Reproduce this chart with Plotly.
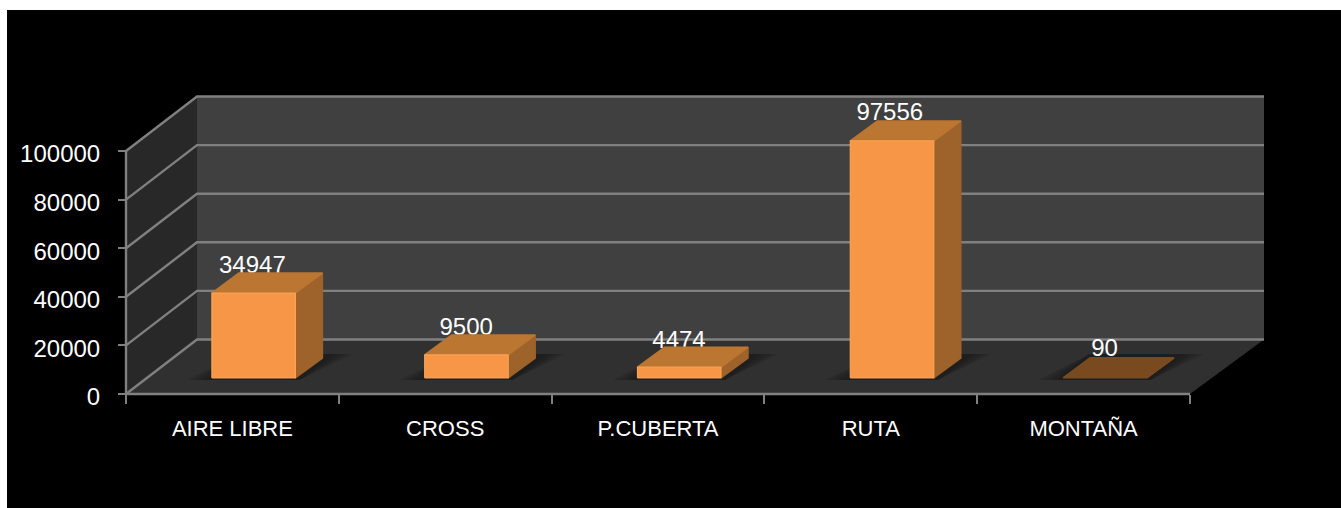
import plotly.graph_objects as go

CATEGORIES = ["AIRE LIBRE", "CROSS", "P.CUBERTA", "RUTA", "MONTAÑA"]
VALUES = [34947, 9500, 4474, 97556, 90]
Y_TICKS = [0, 20000, 40000, 60000, 80000, 100000]
LABEL_NUDGE_PX = [-1, 0, 0, -2, 0]
LABEL_RISE_PX = [26, 26, 25, 27, 28]

W, H = 1341, 508
L, R, T, B = 126, 1190, 151, 394
# the plot area is larger than the front plane so the 3D box is not clipped
AL, AR, AT, AB = 100, 1341, 10, 420
PX_X = len(CATEGORIES) / (R - L)
PX_Y = 100000 / (B - T)
X0, X1 = -0.5, len(CATEGORIES) - 0.5

# oblique projection of the fake 3D box, in pixels
WALL_DX, WALL_DY = 71, 54.5
WALL_DX_R = 74
BAR_INSET_DX, BAR_INSET_DY = 21, 16
BAR_W = 84
BAR_DX, BAR_DY = 27, 20

GRID = "#808080"
BACK = "#404040"
LEFT = "#282828"
FLOOR = "#303030"
FRONT = "#f79646"
FRONT_EDGE = "#fba253"
SIDE = "#9e622b"
TOP = "#bb7632"
TOP_FLAT = "#794a20"


def pt(x, y, dx=0, dy=0):
    return x + dx * PX_X, y + dy * PX_Y


def poly(points, color, line=None, width=0):
    xs = [p[0] for p in points] + [points[0][0]]
    ys = [p[1] for p in points] + [points[0][1]]
    return go.Scatter(
        x=xs, y=ys, mode="lines", fill="toself", fillcolor=color,
        line=dict(color=line or "rgba(0,0,0,0)", width=width),
        hoverinfo="skip", showlegend=False, cliponaxis=False,
    )


def seg(points, color=GRID, width=2.4):
    return go.Scatter(
        x=[p[0] for p in points], y=[p[1] for p in points], mode="lines",
        line=dict(color=color, width=width),
        hoverinfo="skip", showlegend=False, cliponaxis=False,
    )


fig = go.Figure()
top_val = Y_TICKS[-1]

# walls and floor
fig.add_trace(poly([pt(X0, 0), pt(X0, top_val), pt(X0, top_val, WALL_DX, WALL_DY), pt(X0, 0, WALL_DX, WALL_DY)], LEFT))
fig.add_trace(poly([pt(X0, 0, WALL_DX, WALL_DY), pt(X0, top_val, WALL_DX, WALL_DY), pt(X1, top_val, WALL_DX_R, WALL_DY), pt(X1, 0, WALL_DX_R, WALL_DY)], BACK))
fig.add_trace(poly([pt(X0, 0), pt(X0, 0, WALL_DX, WALL_DY), pt(X1, 0, WALL_DX_R, WALL_DY), pt(X1, 0)], FLOOR))

# gridlines and axis lines
for v in Y_TICKS:
    fig.add_trace(seg([pt(X0, v), pt(X0, v, WALL_DX, WALL_DY), pt(X1, v, WALL_DX_R, WALL_DY)]))
fig.add_trace(seg([pt(X0, 0), pt(X0, top_val)]))
fig.add_trace(seg([pt(X0, 0), pt(X1, 0)]))

# floor shadows
for i, v in enumerate(VALUES):
    for grow in (24, 18, 12, 6):
        a = pt(i, 0, BAR_INSET_DX - BAR_W / 2 - grow, BAR_INSET_DY - 2)
        b = pt(i, 0, BAR_INSET_DX + BAR_W / 2 + 4, BAR_INSET_DY - 2)
        c = pt(i, 0, BAR_INSET_DX + BAR_W / 2 + BAR_DX + grow + 6, BAR_INSET_DY + BAR_DY + 4)
        d = pt(i, 0, BAR_INSET_DX - BAR_W / 2 + BAR_DX, BAR_INSET_DY + BAR_DY + 4)
        fig.add_trace(poly([a, b, c, d], "rgba(20,20,20,0.2)"))

# value labels sit behind the bars
fig.add_trace(go.Scatter(
    x=[pt(i, v, BAR_INSET_DX + LABEL_NUDGE_PX[i], 0)[0] for i, v in enumerate(VALUES)],
    y=[pt(i, v, 0, BAR_INSET_DY + LABEL_RISE_PX[i])[1] for i, v in enumerate(VALUES)],
    text=[str(v) for v in VALUES], mode="text", textposition="middle center",
    textfont=dict(family="Liberation Sans", size=24, color="white"),
    hoverinfo="skip", showlegend=False, cliponaxis=False,
))

# bars
for i, v in enumerate(VALUES):
    xl, xr = BAR_INSET_DX - BAR_W / 2 + 0.5, BAR_INSET_DX + BAR_W / 2
    fl = BAR_INSET_DY
    fig.add_trace(poly([pt(i, 0, xr, fl), pt(i, v, xr, fl), pt(i, v, xr + BAR_DX, fl + BAR_DY), pt(i, 0, xr + BAR_DX, fl + BAR_DY)], SIDE, SIDE, 1.5))
    top_col = TOP if v > 1000 else TOP_FLAT
    fig.add_trace(poly([pt(i, v, xl, fl), pt(i, v, xr, fl), pt(i, v, xr + BAR_DX, fl + BAR_DY), pt(i, v, xl + BAR_DX, fl + BAR_DY)], top_col, top_col, 1.5))
    if v > 1000:
        fig.add_trace(poly([pt(i, 0, xl, fl), pt(i, v, xl, fl), pt(i, v, xr, fl), pt(i, 0, xr, fl)], FRONT, FRONT_EDGE, 1.2))

axis_common = dict(
    showgrid=False, zeroline=False, showline=False,
    tickfont=dict(family="Liberation Sans", color="white"),
    fixedrange=True, anchor="free",
)
fig.update_layout(
    width=W, height=H, autosize=False,
    margin=dict(l=AL, r=W - AR, t=AT, b=H - AB, pad=0),
    paper_bgcolor="white", plot_bgcolor="rgba(0,0,0,0)",
    showlegend=False,
    shapes=[dict(type="rect", xref="paper", yref="paper", layer="below",
                 x0=(7 - AL) / (AR - AL), x1=(W + 5 - AL) / (AR - AL),
                 y0=(AB - H - 5) / (AB - AT), y1=(AB - 10) / (AB - AT),
                 fillcolor="black", line=dict(width=0))],
    xaxis=dict(
        **axis_common,
        range=[X0 + (AL - L) * PX_X, X0 + (AR - L) * PX_X],
        position=(AB - B) / (AB - AT),
        tickmode="array",
        tickvals=list(range(len(CATEGORIES))), ticktext=CATEGORIES,
        ticks="outside", ticklen=0, ticklabelstandoff=15,
        minor=dict(tickmode="array", tickvals=[X0 + k for k in range(len(CATEGORIES) + 1)],
                   ticks="outside", ticklen=9, tickwidth=2, tickcolor=GRID),
    ),
    yaxis=dict(
        **axis_common,
        range=[(B - AB) * PX_Y, (B - AT) * PX_Y],
        position=(L - AL) / (AR - AL),
        tickmode="array", tickvals=Y_TICKS, ticktext=[str(v) for v in Y_TICKS],
        ticks="outside", ticklen=8, tickwidth=2, tickcolor=GRID,
        ticklabelstandoff=13, ticklabelshift=3,
    ),
)
fig.update_xaxes(tickfont_size=22)
fig.update_yaxes(tickfont_size=24)

fig.write_html(
    "out.html",
    config=dict(displayModeBar=False),
    post_script="document.body.style.margin='0';document.body.style.overflow='hidden';",
)
